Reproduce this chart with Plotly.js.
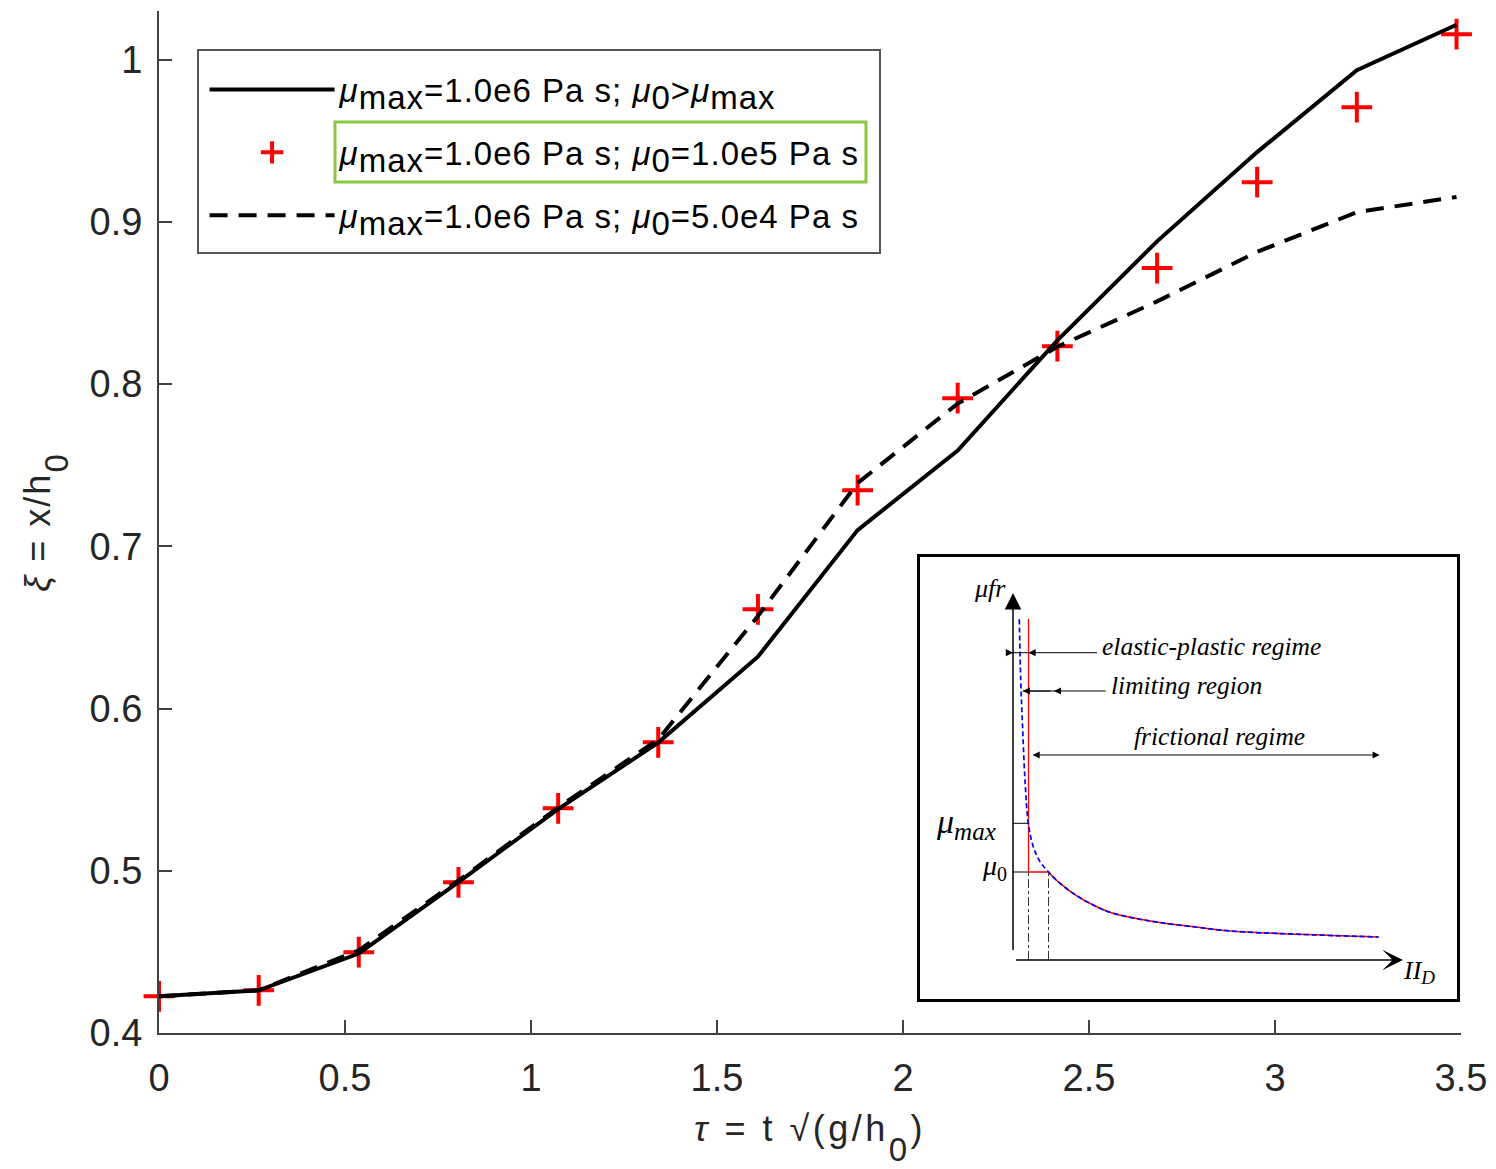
<!DOCTYPE html>
<html>
<head>
<meta charset="utf-8">
<script src="https://cdn.plot.ly/plotly-3.0.1.min.js"></script>
<style>html,body{margin:0;padding:0;background:#fff;}</style>
</head>
<body>
<div id="chart" style="width:1496px;height:1169px;"></div>
<script>
// Dimensionless time tau = t*sqrt(g/h0) and front position xi = x/h0
const tau = [0, 0.268, 0.537, 0.805, 1.073, 1.342, 1.610, 1.878, 2.147, 2.415, 2.683, 2.952, 3.220, 3.488];
const xiMu0AboveMax = [0.4226, 0.4263, 0.449, 0.493, 0.538, 0.579, 0.632, 0.710, 0.759, 0.827, 0.888, 0.943, 0.9935, 1.0215];
const xiMu0Is1e5 = [0.4226, 0.4263, 0.4498, 0.4929, 0.5385, 0.5792, 0.6612, 0.7346, 0.7913, 0.8234, 0.8715, 0.9245, 0.9707, 1.0157];
const xiMu0Is5e4 = [0.4226, 0.4263, 0.451, 0.494, 0.539, 0.581, 0.657, 0.739, 0.788, 0.823, 0.851, 0.8815, 0.906, 0.9154];

const xTickVals = [0, 0.5, 1, 1.5, 2, 2.5, 3, 3.5];
const xTickText = ['0', '0.5', '1', '1.5', '2', '2.5', '3', '3.5'];
const yTickVals = [0.4, 0.5, 0.6, 0.7, 0.8, 0.9, 1.0];
const yTickText = ['0.4', '0.5', '0.6', '0.7', '0.8', '0.9', '1'];

// Schematic of the friction coefficient mu_fr against II_D (arbitrary units)
const limitLineX = [15.5, 15.5, 35.5];
const limitLineY = [341, 88, 88];
const frictionalX = [35.5, 44.3, 61.5, 78.8, 96, 122, 148, 182.5, 217, 286, 365.7];
const frictionalY = [88, 79, 65.7, 55.7, 48, 41.7, 37.3, 33, 29, 25.7, 23];
const unlimitedX = [6.3, 7.7, 9.7, 12, 15.3, 20.3, 27, 35.5];
const unlimitedY = [340.7, 280, 230, 180, 136.7, 113.3, 98.3, 88];
const muMaxLevel = 136.7;
const mu0Level = 88;
const axisTopY = 367;
const axisEndX = 390;
const epArrowY = 307.3, epLeaderEnd = 84;
const limArrowY = 269, limLeftX = 9.7, limRightX = 40.8, limLeaderEnd = 92.7;
const fricArrowY = 205, fricEndX = 366.8;

const SANS = 'Liberation Sans, Arial, Helvetica, sans-serif';
const SERIF = 'Liberation Serif, Times New Roman, serif';
const LEG = 33;
const sub = (s, px, drop) => '<sub><span style="font-size:' + px + 'px' +
  (drop ? ';baseline-shift:-' + drop + 'px' : '') + '">' + s + '</span></sub>';
const spaced = (s, px) => '<span style="letter-spacing:' + px + 'px">' + s + '</span>';
const mu = '<i>μ</i>';

const legendNames = [
  spaced(mu + sub('max', LEG) + '=1.0e6 Pa s; ' + mu + sub('0', LEG) + '&gt;' + mu + sub('max', LEG), 1),
  spaced(mu + sub('max', LEG) + '=1.0e6 Pa s; ' + mu + sub('0', LEG) + '=1.0e5 Pa s', 1),
  spaced(mu + sub('max', LEG) + '=1.0e6 Pa s; ' + mu + sub('0', LEG) + '=5.0e4 Pa s', 1)
];

const traces = [
  {
    x: tau, y: xiMu0Is1e5, type: 'scatter', mode: 'markers', name: legendNames[1],
    legendgroup: 'b', legendrank: 2, cliponaxis: false,
    marker: {symbol: 'cross-thin', size: 22, color: '#ff0000', line: {color: '#ff0000', width: 4}}
  },
  {
    x: tau, y: xiMu0AboveMax, type: 'scatter', mode: 'lines', name: legendNames[0],
    legendgroup: 'a', legendrank: 1,
    line: {color: '#000000', width: 4}
  },
  {
    x: tau, y: xiMu0Is5e4, type: 'scatter', mode: 'lines', name: legendNames[2],
    legendgroup: 'c', legendrank: 3,
    line: {color: '#000000', width: 4, dash: '18px,11px'}
  },
  // schematic curves
  {
    x: limitLineX, y: limitLineY, xaxis: 'x2', yaxis: 'y2', type: 'scatter', mode: 'lines',
    showlegend: false, line: {color: '#ff0000', width: 1.3}
  },
  {
    x: frictionalX, y: frictionalY, xaxis: 'x2', yaxis: 'y2', type: 'scatter', mode: 'lines',
    showlegend: false, line: {color: '#ff0000', width: 1.6, shape: 'spline'}
  },
  {
    x: unlimitedX.concat(frictionalX.slice(1)), y: unlimitedY.concat(frictionalY.slice(1)),
    xaxis: 'x2', yaxis: 'y2', type: 'scatter', mode: 'lines',
    showlegend: false, line: {color: '#0000ff', width: 1.7, dash: '5px,3px', shape: 'spline'}
  },
  {
    x: [0, limitLineX[0]], y: [muMaxLevel, muMaxLevel], xaxis: 'x2', yaxis: 'y2', type: 'scatter', mode: 'lines',
    showlegend: false, line: {color: '#000', width: 1}
  },
  {
    x: [0, limitLineX[0]], y: [mu0Level, mu0Level], xaxis: 'x2', yaxis: 'y2', type: 'scatter', mode: 'lines',
    showlegend: false, line: {color: '#000', width: 1}
  },
  {
    x: [limitLineX[0], limitLineX[0], null, limitLineX[2], limitLineX[2]], y: [0, mu0Level, null, 0, mu0Level],
    xaxis: 'x2', yaxis: 'y2', type: 'scatter', mode: 'lines',
    showlegend: false, line: {color: '#333', width: 1, dash: 'dashdot'}
  },
  {
    x: [-6, 21, null, 21, epLeaderEnd], y: [epArrowY, epArrowY, null, epArrowY, epArrowY],
    xaxis: 'x2', yaxis: 'y2', type: 'scatter', mode: 'lines',
    showlegend: false, line: {color: '#000', width: 1}
  },
  {
    x: [limLeftX, limRightX, null, limRightX, limLeaderEnd], y: [limArrowY, limArrowY, null, limArrowY, limArrowY],
    xaxis: 'x2', yaxis: 'y2', type: 'scatter', mode: 'lines',
    showlegend: false, line: {color: '#000', width: 1}
  }
];

function arrow(x, y, ax, ay, opts) {
  return Object.assign({
    xref: 'x2', yref: 'y2', axref: 'x2', ayref: 'y2', x: x, y: y, ax: ax, ay: ay,
    text: ' ', showarrow: true, arrowhead: 2, arrowsize: 1, arrowwidth: 1.2,
    arrowcolor: '#000', standoff: 0, startstandoff: 0
  }, opts || {});
}
function label(x, y, text, size, anchor) {
  return {
    xref: 'x2', yref: 'y2', x: x, y: y, text: text, showarrow: false,
    xanchor: anchor || 'center', yanchor: 'middle',
    font: {family: SERIF, size: size, color: '#000'}
  };
}

const annotations = [
  arrow(0, axisTopY, 0, 0, {arrowhead: 2, arrowsize: 2.2, arrowwidth: 1.5}),
  arrow(axisEndX, 0, 0, 0, {arrowhead: 3, arrowsize: 2.3, arrowwidth: 1.5}),
  arrow(0, epArrowY, -7, epArrowY, {arrowsize: 1.2}),
  arrow(limitLineX[0], epArrowY, 22, epArrowY, {arrowsize: 1.2}),
  arrow(limLeftX, limArrowY, limRightX, limArrowY, {arrowsize: 1.2}),
  arrow(limRightX, limArrowY, limRightX + 8, limArrowY, {arrowsize: 1.2}),
  arrow(fricEndX, fricArrowY, limitLineX[0] + 1, fricArrowY, {arrowside: 'end+start', arrowsize: 1.2}),
  label(-22.7, 371.5, '<i>μfr</i>', 26),
  label(406, -12, '<i>II' + sub('D', 19) + '</i>', 26),
  label(-47, 136.5, '<i>μ' + sub('max', 25) + '</i>', 34),
  label(-19, 93, '<i>μ</i>' + sub('0', 20), 28),
  label(87.5, 314, '<i>elastic-plastic regime</i>', 25.5, 'left'),
  label(96, 275, '<i>limiting region</i>', 25.5, 'left'),
  label(118.6, 223.5, '<i>frictional regime</i>', 25.5, 'left')
];

const shapes = [
  // legend frame and highlighted entry
  {type: 'rect', xref: 'paper', yref: 'paper', x0: 0.02995, x1: 0.55376, y0: 0.7632, y1: 0.9618,
   line: {color: '#555555', width: 2}, fillcolor: 'rgba(0,0,0,0)'},
  {type: 'rect', xref: 'paper', yref: 'paper', x0: 0.1352, x1: 0.5430, y0: 0.8327, y1: 0.8914,
   line: {color: '#8cc63f', width: 3}, fillcolor: 'rgba(0,0,0,0)'}
];

const axisFont = {family: SANS, size: 38, color: '#262626'};
const titleFont = {family: SANS, size: 36, color: '#262626'};

const layout = {
  width: 1496, height: 1169, autosize: false,
  margin: {l: 159, r: 35, t: 11, b: 136, pad: 0},
  paper_bgcolor: '#ffffff', plot_bgcolor: '#ffffff',
  showlegend: true, hovermode: false,
  legend: {
    x: 0.035, y: 0.9506, xanchor: 'left', yanchor: 'top',
    bgcolor: 'rgba(0,0,0,0)', borderwidth: 0,
    font: {family: SANS, size: LEG, color: '#000'},
    itemwidth: 125, tracegroupgap: 17, traceorder: 'grouped'
  },
  xaxis: {
    range: [0, 3.5], tickvals: xTickVals, ticktext: xTickText,
    ticks: 'inside', ticklen: 13, tickwidth: 2, tickcolor: '#404040',
    showline: true, linecolor: '#404040', linewidth: 2, mirror: false,
    showgrid: false, zeroline: false, tickfont: axisFont, ticklabelstandoff: 10,
    title: {text: spaced('<i>τ</i> = t √(g/h' + sub('0', 33, 13) + ')', 3.5), font: titleFont, standoff: 18},
    automargin: false, fixedrange: true
  },
  yaxis: {
    range: [0.4, 1.03], tickvals: yTickVals, ticktext: yTickText,
    ticks: 'inside', ticklen: 13, tickwidth: 2, tickcolor: '#404040',
    showline: true, linecolor: '#404040', linewidth: 2, mirror: false,
    showgrid: false, zeroline: false, tickfont: axisFont, ticklabelstandoff: 7,
    title: {text: spaced('<i>ξ</i> = x/h' + sub('0', 33, 10), 2), font: titleFont, standoff: 28},
    automargin: false, fixedrange: true
  },
  xaxis2: {
    domain: [0.5845, 0.9969], anchor: 'y2', range: [-93, 444],
    showline: true, mirror: true, linecolor: '#000', linewidth: 3,
    showgrid: false, zeroline: false, showticklabels: false, ticks: '', fixedrange: true
  },
  yaxis2: {
    domain: [0.03327, 0.46575], anchor: 'x2', range: [-39, 403],
    showline: true, mirror: true, linecolor: '#000', linewidth: 3,
    showgrid: false, zeroline: false, showticklabels: false, ticks: '', fixedrange: true
  },
  annotations: annotations,
  shapes: shapes
};

Plotly.newPlot('chart', traces, layout, {displayModeBar: false, staticPlot: true});
</script>
</body>
</html>
